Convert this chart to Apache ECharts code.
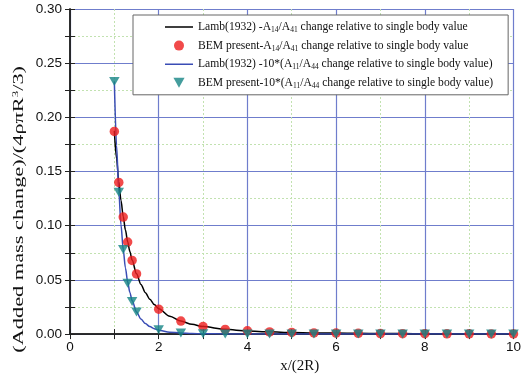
<!DOCTYPE html>
<html><head><meta charset="utf-8">
<script src="https://cdn.jsdelivr.net/npm/echarts@6/dist/echarts.min.js"></script>
<style>html,body{margin:0;padding:0;background:#fff}#c{width:524px;height:379px}</style>
</head><body><div id="c"></div>
<script>
// Lamb (1932) theory curves
const lambX = [1.0,1.05,1.1,1.15,1.2,1.25,1.3,1.35,1.4,1.5,1.6,1.7,1.8,1.9,2.0,2.25,2.5,2.75,3.0,3.5,4,4.5,5,5.5,6,6.5,7,7.5,8,8.5,9,9.5,10];
const lamb14 = [0.1875,0.1620,0.1409,0.1233,0.1085,0.0960,0.0853,0.0762,0.0683,0.0556,0.0458,0.0382,0.0322,0.0273,0.0234,0.0165,0.0120,0.0090,0.0069,0.0044,0.0029,0.0021,0.0015,0.0011,0.0009,0.0007,0.00055,0.00044,0.00037,0.00031,0.00026,0.00022,0.00019];
const lamb11 = [0.233,0.174,0.1315,0.1007,0.0780,0.0611,0.0483,0.0385,0.0309,0.0205,0.0139,0.0097,0.0069,0.0050,0.0036,0.0018,0.0010,0.0005,0.0003,0.00013,0.00006,0.00003,0.00002,0.00001,0,0,0,0,0,0,0,0,0];
// BEM present results
const bemX = [1.0,1.1,1.2,1.3,1.4,1.5,2,2.5,3,3.5,4,4.5,5,5.5,6,6.5,7,7.5,8,8.5,9,9.5,10];
const bem14 = [0.187,0.140,0.108,0.085,0.068,0.0555,0.023,0.012,0.007,0.0043,0.003,0.002,0.0015,0.0011,0.0009,0.0007,0.0005,0.0004,0.0004,0.0003,0.0003,0.0002,0.0002];
const bem11 = [0.233,0.131,0.078,0.047,0.030,0.0205,0.004,0.001,0.0003,0.0001,0,0,0,0,0,0,0,0,0,0,0,0,0];

const seriesNames = ['L14','B14','L11','B11'];
const legendLabels = {
  L14: '{n|Lamb(1932) -A}{s|14}{n|/A}{s|41}{n| change relative to single body value}',
  B14: '{n|BEM present-A}{s|14}{n|/A}{s|41}{n| change relative to single body value}',
  L11: '{n|Lamb(1932) -10*(A}{s|11}{n|/A}{s|44}{n| change relative to single body value)}',
  B11: '{n|BEM present-10*(A}{s|11}{n|/A}{s|44}{n| change relative to single body value)}'
};
const xTicks = [0,2,4,6,8,10];

const zip = (xs, ys) => xs.map((x,i)=>[x, ys[i]]);
const serif = 'Liberation Serif';
const sans = 'Liberation Sans';
const majorGrid = {show:true, lineStyle:{color:'#6f7dcc', width:1.2}};
const minorGrid = {show:true, lineStyle:{color:'#c2e2b0', width:1, type:[2,2]}};
const lineIcon = 'path://M0,0 L0.01,0 L0,0.01 Z M0,4.25 L28,4.25 L28,5.75 L0,5.75 Z M28,10 L27.99,10 L28,9.99 Z';

const chart = echarts.init(document.getElementById('c'));
chart.setOption({
  animation:false,
  grid:{left:70, right:6, top:9, bottom:38},
  legend:{
    orient:'vertical', left:133, top:15,
    padding:[6,15,5,32], itemGap:5.6, itemWidth:28, itemHeight:10,
    backgroundColor:'#fff', borderColor:'#666', borderWidth:1,
    data:[{name:'L14', icon:lineIcon},{name:'B14'},{name:'L11', icon:lineIcon},{name:'B11'}],
    formatter:(n)=>legendLabels[n],
    textStyle:{rich:{
      n:{fontFamily:serif, fontSize:11.6, color:'#111'},
      s:{fontFamily:serif, fontSize:7.5, color:'#111', padding:[6,0,0,0]}
    }}
  },
  xAxis:[{
    type:'value', min:0, max:10, interval:2,
    name:'x/(2R)', nameLocation:'middle', nameGap:24,
    nameTextStyle:{fontFamily:serif, fontSize:15, color:'#111', padding:[0,0,0,16]},
    axisLine:{lineStyle:{color:'#222', width:1.5}},
    axisTick:{inside:true, length:5, lineStyle:{color:'#222'}},
    minorTick:{show:true, splitNumber:2, length:5, lineStyle:{color:'#222'}},
    splitLine:majorGrid, minorSplitLine:minorGrid,
    axisLabel:{fontFamily:sans, fontSize:13.5, color:'#111', margin:6,
      formatter:(v)=>xTicks.includes(v)?String(v):''}
  },{
    type:'value', position:'top', min:0, max:10, interval:1,
    axisLine:{show:true, lineStyle:{color:'#222', width:1.5}},
    axisTick:{show:true, inside:true, length:5, lineStyle:{color:'#222'}},
    axisLabel:{show:false}, splitLine:{show:false}
  }],
  yAxis:[{
    type:'value', min:0, max:0.3, interval:0.05,
    axisLine:{show:true, lineStyle:{color:'#222', width:1.5}},
    axisTick:{show:true, inside:true, length:5, lineStyle:{color:'#222'}},
    minorTick:{show:true, splitNumber:2, length:5, lineStyle:{color:'#222'}},
    splitLine:majorGrid, minorSplitLine:minorGrid,
    axisLabel:{fontFamily:sans, fontSize:13.5, color:'#111', margin:8,
      formatter:(v)=>v.toFixed(2)}
  },{
    type:'value', position:'right', min:0, max:0.3, interval:0.025,
    axisLine:{show:true, lineStyle:{color:'#222', width:1.5}},
    axisTick:{show:true, inside:true, length:5, lineStyle:{color:'#222'}},
    axisLabel:{show:false}, splitLine:{show:false}
  }],
  graphic:[{
    type:'text', left:11, top:66, rotation:Math.PI/2, scaleX:1.44, z:10,
    style:{text:'{m|(Added mass change)/(4ρπR}{p|3}{m|/3)}', fill:'#111',
      rich:{m:{fontFamily:serif, fontSize:15.5, fill:'#111'},
            p:{fontFamily:serif, fontSize:9, fill:'#111', padding:[0,0,7,0]}}}
  }],
  series:[
    {name:'L14', type:'line', data:zip(lambX, lamb14), symbol:'none', smooth:0.3, smoothMonotone:'x',
      lineStyle:{color:'#000', width:1.5}, itemStyle:{color:'#000'}, z:3},
    {name:'B14', type:'scatter', data:zip(bemX, bem14), symbol:'circle', symbolSize:9.5, clip:true,
      itemStyle:{color:'#ee1d1d'}, z:4},
    {name:'L11', type:'line', data:zip(lambX, lamb11), symbol:'none', smooth:0.3, smoothMonotone:'x',
      lineStyle:{color:'#3a4db5', width:1.5}, itemStyle:{color:'#3a4db5'}, z:3},
    {name:'B11', type:'scatter', data:zip(bemX, bem11), symbol:'path://M0,0 L10,0 L5,9 Z', symbolSize:[10.5,9], clip:true,
      itemStyle:{color:'#158585'}, z:5}
  ]
});
</script></body></html>
